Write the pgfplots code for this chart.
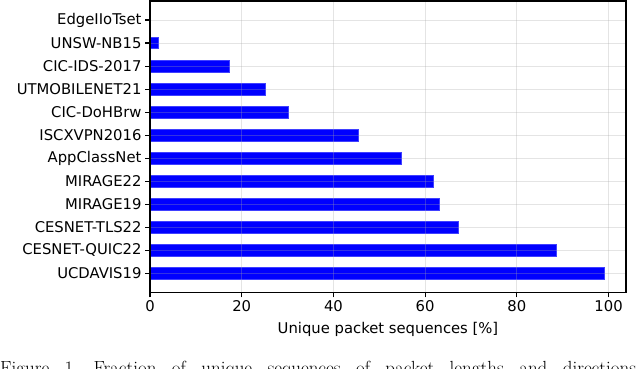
\documentclass[border=0pt]{standalone}
\usepackage{pgfplots}
\pgfplotsset{compat=1.18}
\usepackage{fontspec}
\newfontfamily\dejavu{DejaVu Sans}
\begin{document}
\begin{tikzpicture}
\useasboundingbox (0pt,0pt) rectangle (640pt,-368pt);
\clip (0pt,0pt) rectangle (640pt,-368pt);
\begin{axis}[
  at={(150pt,-292.3pt)}, anchor=south west,
  scale only axis, width=476pt, height=291.3pt,
  xmin=0, xmax=103.8, ymin=-0.825, ymax=11.825,
  xbar, bar width=0.5,
  ytick={0,...,11},
  yticklabels={UCDAVIS19,CESNET-QUIC22,CESNET-TLS22,MIRAGE19,MIRAGE22,AppClassNet,ISCXVPN2016,CIC-DoHBrw,UTMOBILENET21,CIC-IDS-2017,UNSW-NB15,EdgeIIoTset},
  xtick={0,20,...,100},
  tick align=outside, tick pos=left, major tick length=5pt,
  grid=major, major grid style={color=gray!70, opacity=0.3, line width=1pt},
  axis on top,
  axis line style={line width=1.1pt, black},
  tick style={line width=1.1pt, black},
  ticklabel style={font=\dejavu\fontsize{14.8}{17}\selectfont},
  /pgf/number format/assume math mode=true,
  xlabel={Unique packet sequences [\%]},
  xlabel style={font=\dejavu\fontsize{14.8}{17}\selectfont, at={(axis description cs:0.5,0)}, anchor=base, yshift=-40.7pt},
]
\addplot[fill=blue, draw=blue!75!white, line width=0.6pt] coordinates {
(99.0,0) (88.6,1) (67.3,2) (63.0,3) (61.8,4) (54.8,5) (45.5,6) (30.2,7) (25.2,8) (17.4,9) (1.8,10) (0.05,11)};
\end{axis}
\node[anchor=base west, inner sep=0, font=\fontsize{19}{22}\selectfont] at (0pt,-374pt) {\frenchspacing\makebox[636pt][s]{Figure 1. Fraction of unique sequences of packet lengths and directions}};
\end{tikzpicture}
\end{document}
